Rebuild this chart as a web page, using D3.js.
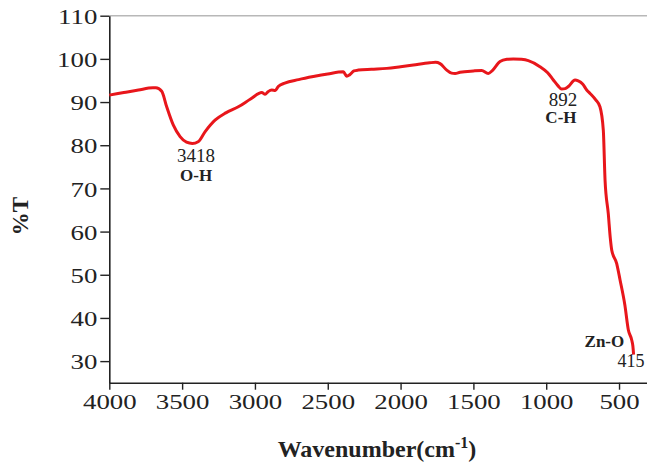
<!DOCTYPE html>
<html>
<head>
<meta charset="utf-8">
<script src="https://cdn.jsdelivr.net/npm/d3@7"></script>
<style>
  body { margin: 0; background: #fff; }
  svg { display: block; font-family: "Liberation Serif", "Times New Roman", serif; }
</style>
</head>
<body>
<svg id="chart" width="647" height="463"></svg>
<script>
// FTIR spectrum: wavenumber (cm-1) and %T
const wavenumber = [4000, 3900, 3800, 3700, 3680, 3640, 3606, 3561, 3514, 3470, 3430, 3390, 3343, 3274, 3200, 3114,
  3030, 2953, 2930, 2910, 2885, 2860, 2840, 2795, 2700, 2599, 2500, 2393, 2370, 2350, 2320, 2290, 2200, 2095,
  2000, 1912, 1800, 1760, 1729, 1683, 1650, 1626, 1592, 1500, 1443, 1398, 1370, 1317, 1270, 1226, 1170, 1123,
  1043, 990, 951, 920, 894, 870, 848, 802, 780, 750, 722, 699, 660, 631, 608, 596, 574, 560, 550, 516, 493,
  460, 436, 413, 405, 400];
const transmittance = [91.6, 92.2, 92.8, 93.3, 93.3, 92.5, 88.9, 84.7, 82.0, 80.7, 80.4, 80.8, 83.1, 85.8, 87.5, 88.9,
  90.7, 92.2, 91.8, 92.4, 92.8, 92.7, 93.6, 94.4, 95.2, 95.9, 96.5, 97.0, 96.0, 96.3, 97.2, 97.4, 97.6, 97.8,
  98.2, 98.6, 99.1, 99.2, 98.9, 97.4, 96.7, 96.6, 96.9, 97.2, 97.3, 96.6, 97.3, 99.4, 99.9, 100.0, 99.9, 99.6,
  98.2, 96.8, 95.1, 93.8, 93.0, 93.1, 93.6, 95.1, 94.9, 94.2, 92.8, 92.0, 90.5, 88.9, 83.5, 71.9, 64.2, 58.5, 55.7, 52.6, 48.8,
  43.0, 37.2, 34.9, 33.5, 31.5];

const xTicks = [4000, 3500, 3000, 2500, 2000, 1500, 1000, 500];
const yTicks = [30, 40, 50, 60, 70, 80, 90, 100, 110];

// peak labels: wavenumber, number label, bond
const peakPos = [3418, 892, 415];
const peakNum = ["3418", "892", "415"];
const peakBond = ["O-H", "C-H", "Zn-O"];

const svg = d3.select("#chart");
const mLeft = 109.3, mRight = 647, mTop = 15.7, mBottom = 382.7;

const x = d3.scaleLinear().domain([4000, 308]).range([mLeft, mRight]);
const y = d3.scaleLinear().domain([25, 110]).range([mBottom, mTop]);

// grey frame line at the top
svg.append("line")
  .attr("x1", mLeft).attr("x2", mRight)
  .attr("y1", mTop).attr("y2", mTop)
  .style("stroke", "#b8b8b8")
  .style("stroke-width", 1.5);

// x axis
const gx = svg.append("g")
  .attr("transform", `translate(0,${mBottom})`)
  .call(d3.axisBottom(x).tickValues(xTicks).tickSize(7).tickSizeOuter(0).tickFormat(d3.format("d")));

// y axis
const gy = svg.append("g")
  .attr("transform", `translate(${mLeft},0)`)
  .call(d3.axisLeft(y).tickValues(yTicks).tickSize(9).tickSizeOuter(0));

[gx, gy].forEach(g => {
  g.select(".domain").style("stroke", "#222").style("stroke-width", 1.6);
  g.selectAll(".tick line").style("stroke", "#222").style("stroke-width", 1.4);
  g.selectAll(".tick text")
    .style("font-family", "Liberation Serif, serif")
    .style("font-size", "22px")
    .style("fill", "#222");
});
// tick labels in the picture are stretched sideways
gx.selectAll(".tick text").attr("y", 11).attr("transform", "scale(1.22,1)");
gy.selectAll(".tick text").attr("x", -12 / 1.22).attr("dy", "0.35em").attr("transform", "scale(1.22,1)");

// spectrum line
const line = d3.line()
  .x(d => x(d[0]))
  .y(d => y(d[1]))
  .curve(d3.curveMonotoneX);

svg.append("path")
  .datum(wavenumber.map((w, i) => [w, transmittance[i]]))
  .attr("d", line)
  .style("fill", "none")
  .style("stroke", "#e8161b")
  .style("stroke-width", 3)
  .style("stroke-linejoin", "round");

// peak annotations (pixel offsets from the peak position)
const numDx = [2, 1, -14], numY = [162, 106, 366.7];
const bondDx = [2, -1, -27], bondY = [181, 123, 346.7];
const numAnchor = ["middle", "middle", "start"];
peakPos.forEach((p, i) => {
  svg.append("text")
    .attr("x", x(p) + numDx[i])
    .attr("y", numY[i])
    .attr("text-anchor", numAnchor[i])
    .style("font-size", i === 2 ? "18px" : "19px")
    .style("fill", "#222")
    .text(peakNum[i]);
  svg.append("text")
    .attr("x", x(p) + bondDx[i])
    .attr("y", bondY[i])
    .attr("text-anchor", "middle")
    .style("font-size", "17px")
    .style("font-weight", "bold")
    .style("fill", "#222")
    .text(peakBond[i]);
});

// axis titles
const xt = svg.append("text")
  .attr("x", 377)
  .attr("y", 457)
  .attr("text-anchor", "middle")
  .style("font-size", "24px")
  .style("font-weight", "bold")
  .style("fill", "#222");
xt.append("tspan").text("Wavenumber(cm");
xt.append("tspan").attr("dy", -9).style("font-size", "16px").text("-1");
xt.append("tspan").attr("dy", 9).text(")");

svg.append("text")
  .attr("transform", "translate(28,216) rotate(-90)")
  .attr("text-anchor", "middle")
  .style("font-size", "23px")
  .style("font-weight", "bold")
  .style("fill", "#222")
  .text("%T");
</script>
</body>
</html>
